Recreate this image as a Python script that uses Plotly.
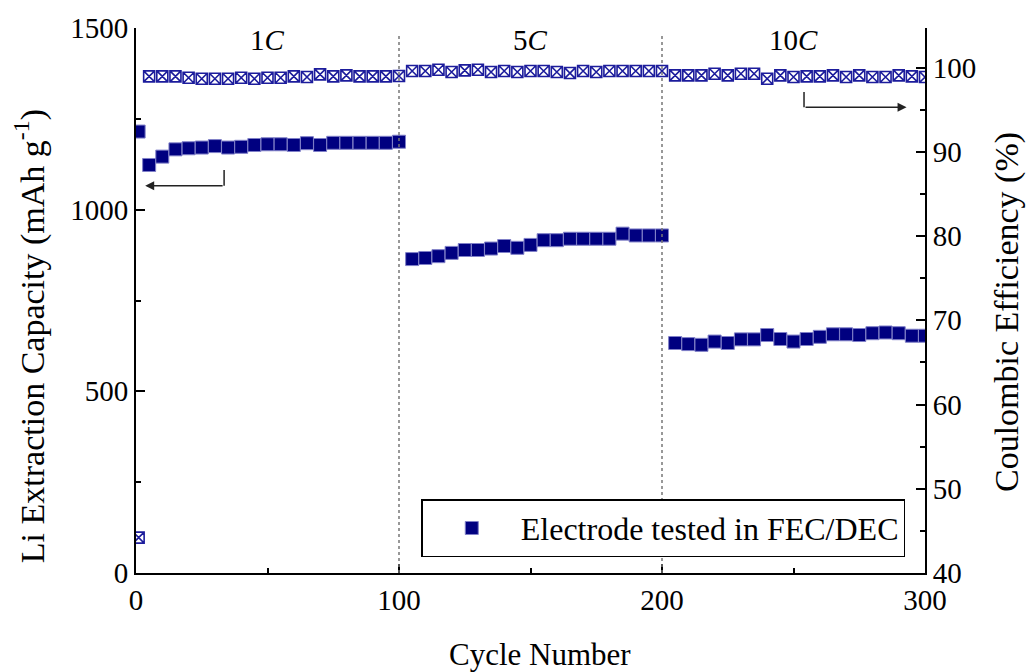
import plotly.graph_objects as go

# ---------------- data ----------------
cycles_1c = [1, 5, 10, 15, 20, 25, 30, 35, 40, 45, 50, 55, 60, 65, 70, 75, 80, 85, 90, 95, 100]
cap_1c = [1215, 1123, 1146, 1166, 1169, 1171, 1175, 1171, 1173, 1178, 1180,
          1180, 1178, 1183, 1178, 1184, 1184, 1184, 1184, 1184, 1187]
ce_1c = [44.2, 98.96, 98.96, 98.96, 98.80, 98.68, 98.68, 98.68, 98.80, 98.68, 98.80,
         98.80, 98.96, 98.88, 99.19, 98.96, 99.07, 98.96, 98.96, 98.96, 99.00]

cycles_5c = [105, 110, 115, 120, 125, 130, 135, 140, 145, 150,
             155, 160, 165, 170, 175, 180, 185, 190, 195, 200]
cap_5c = [864, 867, 872, 881, 889, 889, 893, 900, 895, 903,
          916, 916, 920, 920, 920, 920, 934, 929, 929, 929]
ce_5c = [99.59, 99.59, 99.75, 99.47, 99.67, 99.75, 99.47, 99.59, 99.47, 99.59,
         99.59, 99.47, 99.35, 99.59, 99.47, 99.59, 99.59, 99.59, 99.59, 99.59]

cycles_10c = [205, 210, 215, 220, 225, 230, 235, 240, 245, 250,
              255, 260, 265, 270, 275, 280, 285, 290, 295, 300]
cap_10c = [633, 630, 628, 637, 633, 643, 643, 655, 644, 637,
           644, 650, 657, 657, 655, 660, 662, 660, 653, 653]
ce_10c = [99.07, 99.07, 99.07, 99.27, 99.07, 99.27, 99.27, 98.68, 99.07, 98.88,
          98.96, 98.96, 99.07, 98.88, 99.07, 98.88, 98.88, 99.07, 98.96, 98.88]

rate_labels = ["1<i>C</i>", "5<i>C</i>", "10<i>C</i>"]
rate_label_x = [50, 150, 250]
rate_boundaries = [100, 200]

x_ticks = [0, 100, 200, 300]
y_ticks = [0, 500, 1000, 1500]
y2_ticks = [40, 50, 60, 70, 80, 90, 100]

cycles = cycles_1c + cycles_5c + cycles_10c
capacity = cap_1c + cap_5c + cap_10c
ce = ce_1c + ce_5c + ce_10c

FONT = "Liberation Serif"
NAVY = "#000080"

fig = go.Figure()
fig.add_trace(go.Scatter(
    x=cycles, y=ce, mode="markers", yaxis="y2", showlegend=False,
    marker=dict(symbol="square-x-open", size=11, color="#1c1c9c",
                line=dict(width=1.6, color="#1c1c9c")),
    hoverinfo="skip"))
fig.add_trace(go.Scatter(
    x=cycles, y=capacity, mode="markers", name="Electrode tested in FEC/DEC",
    marker=dict(symbol="square", size=13, color=NAVY,
                line=dict(width=1, color="#8080c8")),
    hoverinfo="skip"))

shapes = []
for b in rate_boundaries:
    shapes.append(dict(type="line", xref="x", yref="paper", x0=b, x1=b, y0=0, y1=0.99,
                       line=dict(color="#777777", width=1.5, dash="dot")))
# arrow stems
shapes.append(dict(type="line", xref="x", yref="y", x0=33.5, x1=33.5, y0=1109, y1=1066,
                   line=dict(color="#222222", width=1.5)))
shapes.append(dict(type="line", xref="x", yref="y2", x0=254, x1=254, y0=97.1, y1=95.3,
                   line=dict(color="#222222", width=1.5)))

annotations = []
for t, xv in zip(rate_labels, rate_label_x):
    annotations.append(dict(x=xv, y=0.978, xref="x", yref="paper", text=t, showarrow=False,
                            xanchor="center", yanchor="middle",
                            font=dict(family=FONT, size=29, color="black")))
# arrows
annotations.append(dict(x=3.5, y=1066, ax=33.5, ay=1066, xref="x", yref="y", axref="x", ayref="y",
                        text="", showarrow=True, arrowhead=2, arrowsize=1.2, arrowwidth=1.5,
                        arrowcolor="#222222"))
annotations.append(dict(x=293, y=95.3, ax=254, ay=95.3, xref="x", yref="y2", axref="x", ayref="y2",
                        text="", showarrow=True, arrowhead=2, arrowsize=1.2, arrowwidth=1.5,
                        arrowcolor="#222222"))
# axis titles
annotations.append(dict(x=0.512, y=-0.150, xref="paper", yref="paper", text="Cycle Number",
                        xanchor="center", yanchor="middle",
                        showarrow=False, font=dict(family=FONT, size=31, color="black")))
annotations.append(dict(x=-0.134, y=0.435, xref="paper", yref="paper", textangle=-90,
                        xanchor="center", yanchor="middle",
                        text="Li Extraction Capacity (mAh g<sup>-1</sup>)",
                        showarrow=False, font=dict(family=FONT, size=34, color="black")))
annotations.append(dict(x=1.104, y=0.479, xref="paper", yref="paper", textangle=-90,
                        xanchor="center", yanchor="middle",
                        text="Coulombic Efficiency (%)",
                        showarrow=False, font=dict(family=FONT, size=34, color="black")))

axis_common = dict(showline=True, linecolor="black", linewidth=2, ticks="inside",
                   ticklen=9, tickwidth=2, tickcolor="black", showgrid=False, zeroline=False,
                   tickfont=dict(family=FONT, size=29, color="black"))

fig.update_layout(
    width=1027, height=672,
    margin=dict(l=136, r=102, t=28, b=99),
    paper_bgcolor="white", plot_bgcolor="white",
    font=dict(family=FONT),
    xaxis=dict(range=[0, 300], tickvals=x_ticks,
               minor=dict(dtick=50, ticks="inside", ticklen=5, tickwidth=2, tickcolor="black"),
               **axis_common),
    yaxis=dict(range=[0, 1500], tickvals=y_ticks,
               minor=dict(dtick=250, ticks="inside", ticklen=5, tickwidth=2, tickcolor="black"),
               **axis_common),
    yaxis2=dict(range=[40, 104.7], tickvals=y2_ticks, overlaying="y", side="right",
                minor=dict(dtick=5, ticks="inside", ticklen=5, tickwidth=2, tickcolor="black"),
                **axis_common),
    legend=dict(x=0.975, y=0.029, xanchor="right", yanchor="bottom",
                bordercolor="black", borderwidth=1.5, bgcolor="white",
                font=dict(family=FONT, size=32, color="black"), itemwidth=88),
    shapes=shapes, annotations=annotations,
)

fig.write_html("out.html")
